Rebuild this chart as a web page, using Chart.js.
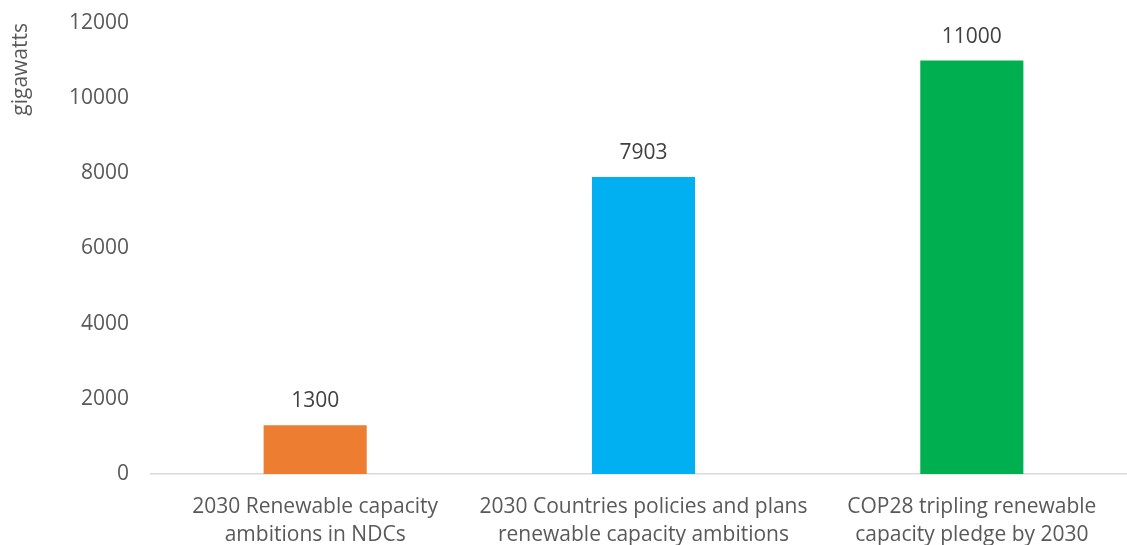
<!DOCTYPE html>
<html>
<head>
<meta charset="utf-8">
<script src="https://cdn.jsdelivr.net/npm/chart.js@4"></script>
<style>
  html, body { margin: 0; padding: 0; background: #fff; overflow: hidden; }
  #wrap { width: 1136px; height: 545px; }
</style>
</head>
<body>
<div id="wrap"><canvas id="chart" width="1136" height="545"></canvas></div>
<script>
// chart data
const categories = [
    ['2030 Renewable capacity', 'ambitions in NDCs'],
    ['2030 Countries policies and plans', 'renewable capacity ambitions'],
    ['COP28 tripling renewable', 'capacity pledge by 2030']
];
const capacityGW = [1300, 7903, 11000];
const barColors = ['#ED7D31', '#00B0F0', '#00B050'];
const yTicks = [0, 2000, 4000, 6000, 8000, 10000, 12000];

const FONT = "'Open Sans', sans-serif";

// value labels above bars
const valueLabels = {
    id: 'valueLabels',
    afterDatasetsDraw(chart) {
        const ctx = chart.ctx;
        const meta = chart.getDatasetMeta(0);
        ctx.save();
        ctx.font = '21px ' + FONT;
        ctx.fillStyle = '#404040';
        ctx.textAlign = 'center';
        ctx.textBaseline = 'middle';
        meta.data.forEach((bar, i) => {
            ctx.fillText(String(capacityGW[i]), bar.x, bar.y - 24);
        });
        ctx.restore();
    }
};

const ctx = document.getElementById('chart').getContext('2d');
new Chart(ctx, {
    type: 'bar',
    data: {
        labels: categories,
        datasets: [{
            data: capacityGW,
            backgroundColor: barColors,
            borderWidth: 0,
            categoryPercentage: 1,
            barPercentage: 0.314
        }]
    },
    options: {
        responsive: false,
        animation: false,
        layout: { padding: { top: 23, right: 0, bottom: 0, left: 0 } },
        plugins: {
            legend: { display: false },
            tooltip: { enabled: false }
        },
        scales: {
            x: {
                grid: { display: false, drawTicks: false },
                border: { display: true, color: '#d9d9d9', width: 1.5 },
                ticks: {
                    color: '#595959',
                    padding: 19,
                    maxRotation: 0,
                    autoSkip: false,
                    font: { family: FONT, size: 21, lineHeight: 1.33 }
                },
                afterFit(scale) {
                    scale.height = 71;
                    scale.paddingLeft = 0;
                    scale.paddingRight = 0;
                }
            },
            y: {
                min: 0,
                max: 12000,
                grid: { display: false, drawTicks: false },
                border: { display: false },
                afterBuildTicks(scale) {
                    scale.ticks = yTicks.map(v => ({ value: v }));
                },
                ticks: {
                    color: '#595959',
                    padding: 22,
                    font: { family: FONT, size: 21 },
                    callback: v => String(v)
                },
                title: {
                    display: true,
                    text: 'gigawatts',
                    align: 'end',
                    color: '#595959',
                    padding: { top: 8, bottom: 0 },
                    font: { family: FONT, size: 21 }
                },
                afterFit(scale) {
                    scale.width = 151;
                    scale.paddingTop = 0;
                    scale.paddingBottom = 0;
                }
            }
        }
    },
    plugins: [valueLabels]
});
</script>
</body>
</html>
